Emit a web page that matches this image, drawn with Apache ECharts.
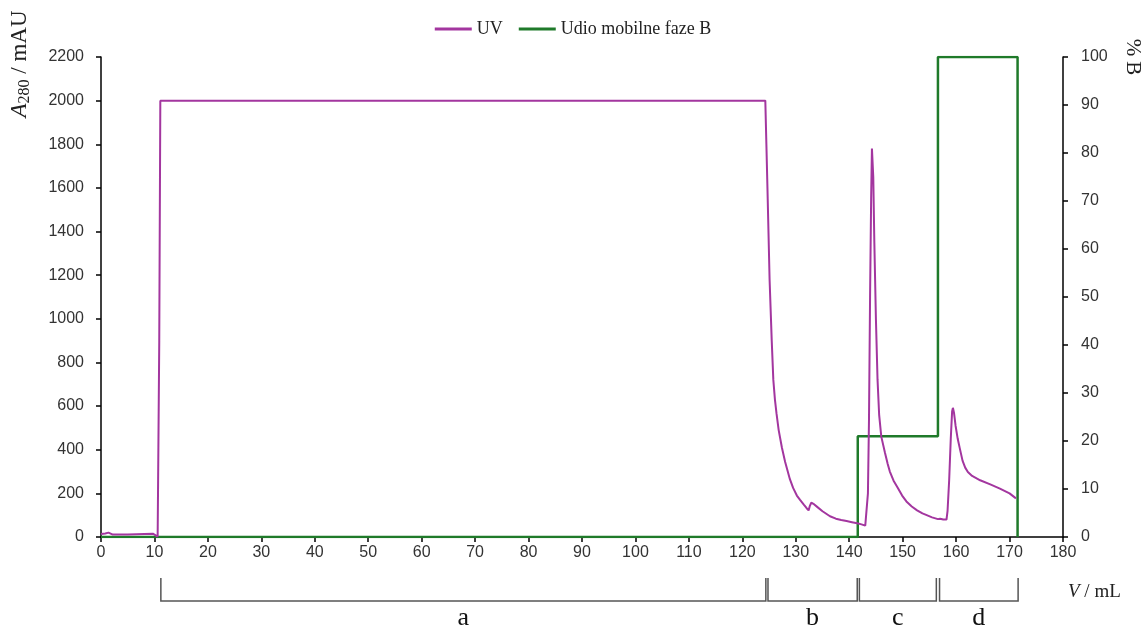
<!DOCTYPE html>
<html>
<head>
<meta charset="utf-8">
<title>UV / Udio mobilne faze B</title>
<script src="https://cdn.jsdelivr.net/npm/echarts@6/dist/echarts.min.js"></script>
<style>
    html, body { margin: 0; padding: 0; background: #fff; }
    #chart { width: 1146px; height: 628px; }
</style>
</head>
<body>
<div id="chart"></div>
<script>
// UV trace: volume (mL) and A280 (mAU)
var uvVolume = [
    0, 0.8, 1.4, 1.7, 2.2, 5, 9.7, 9.9, 10.6, 10.9, 11.1,
    124.3, 124.5, 124.7, 125.1, 125.5, 125.8, 126.1, 126.4, 126.8, 127.4,
    128, 128.9, 129.5, 130.2, 130.8, 131.5, 132, 132.4, 132.6, 132.9,
    133.3, 134, 135, 136.4, 137.5, 138.5, 139.5, 140.5, 141.5, 142.3,
    143, 143.2, 143.5, 143.7, 143.9, 144.1, 144.25, 144.35, 144.5, 144.7,
    145, 145.3, 145.6, 146, 146.7, 147.2, 147.6, 148.3, 149.1, 149.9,
    150.7, 151.7, 152.7, 153.7, 154.5, 155.5, 156.6, 157, 157.3, 157.6,
    157.9, 158.2, 158.4, 158.7, 159, 159.25, 159.4, 159.6, 159.9, 160.3,
    160.7, 161.2, 161.7, 162.2, 163, 164.5, 166.5, 168.2, 170, 171.2
];
var uvAbs = [
    14, 16, 20, 18, 11, 12, 15, 6, 2, 900, 2000,
    2000, 1800, 1600, 1180, 900, 720, 630, 565, 490, 410,
    345, 265, 225, 190, 170, 148, 133, 122, 140, 158,
    152, 138, 118, 95, 84, 78, 73, 68, 63, 58,
    52, 54, 200, 540, 1100, 1550, 1780, 1785, 1650, 1350,
    995, 720, 560, 460, 385, 335, 300, 258, 225, 190,
    163, 140, 122, 108, 100, 90, 82, 84, 90, 80,
    72, 80, 120, 260, 450, 575, 592, 570, 510, 450,
    405, 350, 318, 298, 280, 260, 240, 222, 200, 177
];

// mobile phase B gradient (%)
var bVolume = [0, 141.6, 141.6, 156.6, 156.6, 171.5, 171.5];
var bPercent = [0, 0, 21, 21, 100, 100, 0];

// fractions under the x axis
var fractionStart = [11.2, 124.8, 141.9, 156.9];
var fractionEnd = [124.4, 141.5, 156.3, 171.6];
var fractionLabel = ['a', 'b', 'c', 'd'];

var uvColor = '#a3369f';
var bColor = '#1f7a2a';
var serif = '"Liberation Serif", "DejaVu Serif", serif';
var sans = '"Liberation Sans", Arial, sans-serif';

function pairs(xs, ys) {
    var out = [];
    for (var i = 0; i < xs.length; i++) {
        out.push([xs[i], ys[i]]);
    }
    return out;
}

function plain(v) {
    return String(v);
}

var myChart = echarts.init(document.getElementById('chart'));

var axisLine = {show: true, lineStyle: {color: '#000', width: 1.5}};
var axisTick = {show: true, inside: false, length: 5, lineStyle: {color: '#000', width: 1.5}};

var option = {
    animation: false,
    backgroundColor: '#fff',
    legend: {
        top: 15,
        left: 'center',
        itemWidth: 37,
        itemHeight: 3,
        itemGap: 16,
        textStyle: {fontFamily: serif, fontSize: 18, color: '#222'},
        data: [
            {name: 'UV', icon: 'rect'},
            {name: 'Udio mobilne faze B', icon: 'rect'}
        ]
    },
    grid: {
        left: 101,
        right: 83,
        top: 57,
        bottom: 91,
        containLabel: false,
        outerBoundsMode: 'none'
    },
    xAxis: {
        type: 'value',
        min: 0,
        max: 180,
        interval: 10,
        axisLine: axisLine,
        axisTick: axisTick,
        axisLabel: {color: '#333', fontFamily: sans, fontSize: 16, margin: 8, formatter: plain},
        splitLine: {show: false}
    },
    yAxis: [
        {
            type: 'value',
            min: 0,
            max: 2200,
            interval: 200,
            axisLine: axisLine,
            axisTick: axisTick,
            axisLabel: {color: '#333', fontFamily: sans, fontSize: 16, margin: 17, formatter: plain},
            splitLine: {show: false}
        },
        {
            type: 'value',
            position: 'right',
            min: 0,
            max: 100,
            interval: 10,
            axisLine: axisLine,
            axisTick: axisTick,
            axisLabel: {color: '#333', fontFamily: sans, fontSize: 16, margin: 18, formatter: plain},
            splitLine: {show: false}
        }
    ],
    series: [
        {
            name: 'UV',
            type: 'line',
            yAxisIndex: 0,
            showSymbol: false,
            z: 3,
            lineStyle: {color: uvColor, width: 2},
            itemStyle: {color: uvColor},
            data: pairs(uvVolume, uvAbs)
        },
        {
            name: 'Udio mobilne faze B',
            type: 'line',
            yAxisIndex: 1,
            showSymbol: false,
            z: 2,
            lineStyle: {color: bColor, width: 2.5},
            itemStyle: {color: bColor},
            data: pairs(bVolume, bPercent)
        }
    ]
};
myChart.setOption(option);

// annotations: axis names and the fraction brackets
function buildGraphic() {
    var els = [];
    var axisY = myChart.convertToPixel({yAxisIndex: 0}, 0);
    var top = axisY + 41;
    var bottom = axisY + 64;

    for (var i = 0; i < fractionLabel.length; i++) {
        var x1 = myChart.convertToPixel({xAxisIndex: 0}, fractionStart[i]);
        var x2 = myChart.convertToPixel({xAxisIndex: 0}, fractionEnd[i]);
        els.push({
            type: 'polyline',
            silent: true,
            shape: {points: [[x1, top], [x1, bottom], [x2, bottom], [x2, top]]},
            style: {stroke: '#555', lineWidth: 1.5, fill: null}
        });
        els.push({
            type: 'text',
            silent: true,
            x: (x1 + x2) / 2,
            y: axisY + 81,
            style: {
                text: fractionLabel[i],
                fontFamily: serif,
                fontSize: 26,
                fill: '#111',
                textAlign: 'center',
                textVerticalAlign: 'middle'
            }
        });
    }

    // A280 / mAU
    els.push({
        type: 'text',
        silent: true,
        x: 20,
        y: 64,
        rotation: Math.PI / 2,
        style: {
            text: '{i|A}{sub|280}{n| / mAU}',
            textAlign: 'center',
            textVerticalAlign: 'middle',
            fill: '#222',
            rich: {
                i: {fontFamily: serif, fontSize: 23, fontStyle: 'italic', lineHeight: 26},
                sub: {fontFamily: serif, fontSize: 16, lineHeight: 16, verticalAlign: 'bottom'},
                n: {fontFamily: serif, fontSize: 23, lineHeight: 26}
            }
        }
    });

    // % B
    els.push({
        type: 'text',
        silent: true,
        x: 1133,
        y: 57,
        rotation: -Math.PI / 2,
        style: {
            text: '% B',
            fontFamily: serif,
            fontSize: 21,
            fill: '#222',
            textAlign: 'center',
            textVerticalAlign: 'middle'
        }
    });

    // V / mL
    els.push({
        type: 'text',
        silent: true,
        x: 1068,
        y: axisY + 55,
        style: {
            text: '{i|V}{n| / mL}',
            textAlign: 'left',
            textVerticalAlign: 'middle',
            fill: '#222',
            rich: {
                i: {fontFamily: serif, fontSize: 19, fontStyle: 'italic'},
                n: {fontFamily: serif, fontSize: 19}
            }
        }
    });
    return els;
}

myChart.setOption({graphic: buildGraphic()});
</script>
</body>
</html>
